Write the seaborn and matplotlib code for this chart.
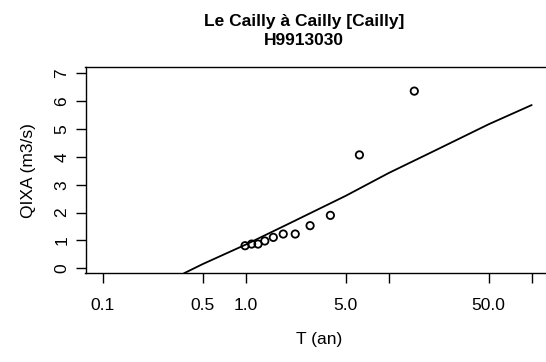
import numpy as np
import pandas as pd
import matplotlib
matplotlib.use("Agg")
import matplotlib.pyplot as plt
import seaborn as sns

# Observed points (return period T in years, QIXA in m3/s)
obs_T = [0.99, 1.10, 1.22, 1.36, 1.56, 1.83, 2.22, 2.82, 3.91, 6.24, 15.1]
obs_Q = [0.81, 0.87, 0.87, 0.98, 1.11, 1.23, 1.23, 1.53, 1.90, 4.07, 6.36]

# Fitted curve
fit_T = [0.37, 0.5, 1.0, 2.0, 5.0, 10.0, 20.0, 50.0, 100.0]
fit_Q = [-0.18, 0.15, 0.85, 1.60, 2.60, 3.42, 4.17, 5.17, 5.86]

x_ticks = [0.1, 0.5, 1, 5, 10, 50, 100]
x_tick_labels = ["0.1", "0.5", "1.0", "5.0", "", "50.0", ""]
y_ticks = [0, 1, 2, 3, 4, 5, 6, 7]

title1 = "Le Cailly à Cailly [Cailly]"
title2 = "H9913030"

sns.set_style("ticks")
plt.rcParams["font.family"] = ["Liberation Sans", "DejaVu Sans"]
plt.rcParams["text.color"] = "black"
plt.rcParams["axes.labelcolor"] = "black"
plt.rcParams["xtick.color"] = "black"
plt.rcParams["ytick.color"] = "black"

W, H = 546, 362
fig = plt.figure(figsize=(W / 100, H / 100), dpi=100)
left, right, top, bottom = 85.5, 552, 67.3, 273.3
ax = fig.add_axes([left / W, (H - bottom) / H, (right - left) / W, (bottom - top) / H])

df_fit = pd.DataFrame({"T": fit_T, "Q": fit_Q})
df_obs = pd.DataFrame({"T": obs_T, "Q": obs_Q})

sns.lineplot(data=df_fit, x="T", y="Q", ax=ax, color="black", lw=1.3, sort=False)
sns.scatterplot(data=df_obs, x="T", y="Q", ax=ax, marker="o", s=28,
                facecolor="none", edgecolor="black", linewidth=1.3)

ax.set_xscale("log")
px_dec = 143.0
x0 = 102.7
ax.set_xlim(10 ** (-1 + (left - x0) / px_dec), 10 ** (-1 + (right - x0) / px_dec))
ax.set_ylim(-0.18, 7.215)

ax.xaxis.set_minor_locator(matplotlib.ticker.NullLocator())
ax.set_xticks(x_ticks)
ax.set_xticklabels(x_tick_labels, fontsize=12.5)
ax.set_yticks(y_ticks)
ax.set_yticklabels([str(v) for v in y_ticks], rotation=90, va="center", fontsize=12.5)

ax.tick_params(axis="both", length=7.2, width=1.0, color="black", labelcolor="black")
ax.tick_params(axis="x", pad=10.5)
ax.tick_params(axis="y", pad=4.5)
for s in ax.spines.values():
    s.set_visible(True)
    s.set_color("black")
    s.set_linewidth(1.0)

ax.set_xlabel("T (an)", fontsize=12.5, labelpad=14, color="black")
ax.set_ylabel("QIXA (m3/s)", fontsize=12.5, labelpad=13, color="black")

fig.text(304 / W, 1 - 26 / H, title1, ha="center", va="baseline",
         fontsize=12.5, fontweight="bold", color="black")
fig.text(304 / W, 1 - 45 / H, title2, ha="center", va="baseline",
         fontsize=12.5, fontweight="bold", color="black")

fig.savefig("out.png", dpi=100)
